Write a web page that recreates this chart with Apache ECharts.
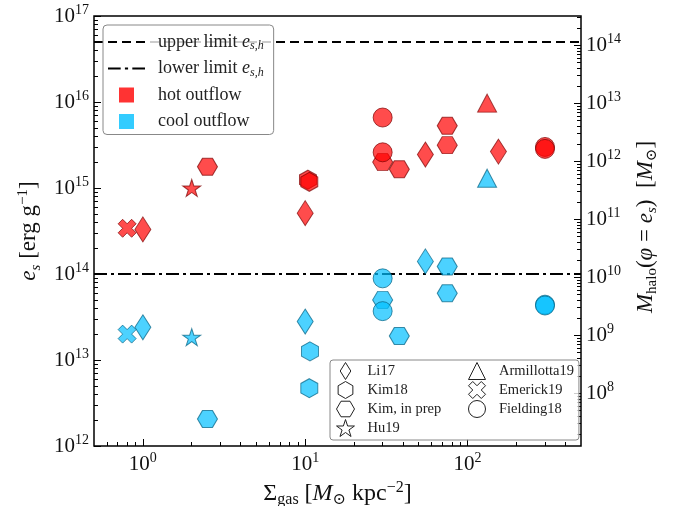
<!DOCTYPE html>
<html>
<head>
<meta charset="utf-8">
<script src="https://cdn.jsdelivr.net/npm/echarts@6/dist/echarts.min.js"></script>
<style>
  html, body { margin: 0; padding: 0; background: #fff; }
  #chart { width: 679px; height: 506px; }
</style>
</head>
<body>
<div id="chart"></div>
<script>
// x: gas surface density [Msun/kpc^2], y: specific energy e_s [erg/g]
const hotEmerick19 = [[0.8, 3.4e14]];
const coolEmerick19 = [[0.8, 2.0e13]];
const hotLi17 = [[1, 3.3e14], [10, 5.1e14], [55, 2.45e15], [155, 2.65e15]];
const coolLi17 = [[1, 2.4e13], [10, 2.8e13], [55, 1.4e14]];
const hotHu19 = [[2, 1.0e15]];
const coolHu19 = [[2, 1.84e13]];
const hotKimPrep = [[2.5, 1.77e15], [30, 2.0e15], [38, 1.65e15], [75, 5.3e15], [75, 3.15e15]];
const coolKimPrep = [[2.5, 2.06e12], [30, 5.0e13], [38, 1.9e13], [75, 1.22e14], [75, 5.96e13]];
const hotKim18 = [[10.4, 1.25e15], [10.6, 1.18e15]];
const coolKim18 = [[10.7, 1.26e13], [10.6, 4.7e12]];
const hotFielding18 = [[30, 6.6e15], [30, 2.6e15], [300, 3.0e15], [300, 2.85e15]];
const coolFielding18 = [[30, 8.9e13], [30, 3.7e13], [300, 4.4e13], [300, 4.3e13]];
const hotArmillotta19 = [[132, 9.7e15]];
const coolArmillotta19 = [[132, 1.3e15]];

const upperLimit = 5e16;
const lowerLimit = 1e14;

const xRange = [0.5, 500];
const yRange = [1e12, 1e17];
const mRange = [1.23e7, 3.2e14];   // M_halo axis on the right

const xMajor = [1, 10, 100];
const yMajor = [1e12, 1e13, 1e14, 1e15, 1e16, 1e17];
const mMajor = [1e8, 1e9, 1e10, 1e11, 1e12, 1e13, 1e14];

const FONT = 'Liberation Serif, DejaVu Serif, serif';

// minor ticks at 2..9 of each decade inside a range
function minorTicks(range) {
  const out = [];
  const e0 = Math.floor(Math.log10(range[0]));
  const e1 = Math.ceil(Math.log10(range[1]));
  for (let e = e0; e <= e1; e++) {
    for (let k = 2; k <= 9; k++) {
      const v = k * Math.pow(10, e);
      if (v > range[0] && v < range[1]) out.push(v);
    }
  }
  return out;
}

const powLabel = v => '{b|10}{s|' + Math.round(Math.log10(v)) + '}';
const powRich = {
  b: { fontFamily: FONT, fontSize: 21, lineHeight: 26, color: '#111' },
  s: { fontFamily: FONT, fontSize: 14, lineHeight: 14, verticalAlign: 'top', color: '#111' }
};
function nameStyle(size) {
  const sub = Math.round(size * 0.65);
  return {
    fontFamily: FONT, fontSize: size, lineHeight: 28, color: '#111',
    rich: {
      i: { fontFamily: FONT, fontSize: size, fontStyle: 'italic', color: '#111' },
      sub: { fontFamily: FONT, fontSize: sub, lineHeight: sub, verticalAlign: 'bottom', color: '#111' },
      si: { fontFamily: FONT, fontSize: sub, lineHeight: sub, fontStyle: 'italic', verticalAlign: 'bottom', color: '#111' },
      sup: { fontFamily: FONT, fontSize: sub, lineHeight: sub, verticalAlign: 'top', color: '#111' }
    }
  };
}

const hexPointy = 'path://M0,-1L0.866,-0.5L0.866,0.5L0,1L-0.866,0.5L-0.866,-0.5Z';
const hexFlat = 'path://M-1,0L-0.5,-0.866L0.5,-0.866L1,0L0.5,0.866L-0.5,0.866Z';
const starPath = 'path://M0,-1L0.2245,-0.309L0.9511,-0.309L0.3633,0.118L0.5878,0.809L0,0.382L-0.5878,0.809L-0.3633,0.118L-0.9511,-0.309L-0.2245,-0.309Z';
const crossPath = 'path://M2,-4L4,-2L2,0L4,2L2,4L0,2L-2,4L-4,2L-2,0L-4,-2L-2,-4L0,-2Z';
const diamondPath = 'path://M0,-1.6L1,0L0,1.6L-1,0Z';
const trianglePath = 'path://M0,-1L1,1L-1,1Z';

const sources = [
  { name: 'Li17', symbol: diamondPath, size: [16, 25], hot: hotLi17, cool: coolLi17 },
  { name: 'Kim18', symbol: hexPointy, size: [17, 19], hot: hotKim18, cool: coolKim18 },
  { name: 'Kim, in prep', symbol: hexFlat, size: [20, 17], hot: hotKimPrep, cool: coolKimPrep },
  { name: 'Hu19', symbol: starPath, size: [18, 17], hot: hotHu19, cool: coolHu19 },
  { name: 'Armillotta19', symbol: trianglePath, size: [19, 18], hot: hotArmillotta19, cool: coolArmillotta19 },
  { name: 'Emerick19', symbol: crossPath, size: [18, 18], hot: hotEmerick19, cool: coolEmerick19 },
  { name: 'Fielding18', symbol: 'circle', size: 19, hot: hotFielding18, cool: coolFielding18 }
];

const hotStyle = { color: '#ff0000', borderColor: '#7a0000', borderWidth: 1, opacity: 0.7 };
const coolStyle = { color: '#00bfff', borderColor: '#005f80', borderWidth: 1, opacity: 0.7 };

const series = [
  {
    name: 'upper limit', type: 'line', symbol: 'none', color: '#000',
    data: [[xRange[0], upperLimit], [xRange[1], upperLimit]],
    lineStyle: { color: '#000', width: 2, type: [9, 5] }, z: 1
  },
  {
    name: 'lower limit', type: 'line', symbol: 'none', color: '#000',
    data: [[xRange[0], lowerLimit], [xRange[1], lowerLimit]],
    lineStyle: { color: '#000', width: 2, type: [13, 4, 3, 4] }, z: 1
  },
  { name: 'hot outflow', type: 'scatter', data: [], itemStyle: { color: '#ff0000' } },
  { name: 'cool outflow', type: 'scatter', data: [], itemStyle: { color: '#00bfff' } }
];
sources.forEach(src => {
  series.push({
    name: src.name, type: 'scatter', symbol: src.symbol, symbolSize: src.size,
    data: src.hot, itemStyle: hotStyle, z: 3
  });
  series.push({
    name: src.name, type: 'scatter', symbol: src.symbol, symbolSize: src.size,
    data: src.cool, itemStyle: coolStyle, z: 3
  });
});

const dashIcon = 'path://M0,0h9v2h-9z M14,0h9v2h-9z M28,0h9v2h-9z';
const dashDotIcon = 'path://M0,0h12v2h-12z M16,0h3v2h-3z M23,0h12v2h-12z';
const squareIcon = 'path://M0,0h10v10h-10z';

const openIcon = { color: '#fff', borderColor: '#222', borderWidth: 1, opacity: 1 };
// fixed-width text so the second legend column lines up
const colText = { width: 99, padding: [0, 0, 0, 8], backgroundColor: 'rgba(255,255,255,0)' };

const tickLine = { color: '#000', width: 1 };

function majorAxis(range, ticks, extra) {
  return Object.assign({
    type: 'log', min: range[0], max: range[1],
    axisLine: { show: false },
    splitLine: { show: false },
    axisTick: { inside: true, length: 7, lineStyle: tickLine, customValues: ticks },
    axisLabel: { customValues: ticks, formatter: powLabel, rich: powRich, margin: 5 }
  }, extra);
}
function minorAxis(range, extra) {
  return Object.assign({
    type: 'log', min: range[0], max: range[1],
    axisLine: { show: false },
    splitLine: { show: false },
    axisTick: { inside: true, length: 4, lineStyle: tickLine, customValues: minorTicks(range) },
    axisLabel: { show: false }
  }, extra);
}

const chart = echarts.init(document.getElementById('chart'));
chart.setOption({
  backgroundColor: '#fff',
  animation: false,
  grid: {
    left: 94, right: 98, top: 16, bottom: 60,
    outerBoundsMode: 'none', containLabel: false,
    show: true, borderColor: '#000', borderWidth: 1.5, backgroundColor: 'transparent'
  },
  xAxis: [
    majorAxis(xRange, xMajor, {
      position: 'bottom',
      name: 'Σ{sub|gas} [{i|M}{sub|⊙} kpc{sup|−2}]',
      nameLocation: 'middle', nameGap: 33, nameTextStyle: nameStyle(24)
    }),
    minorAxis(xRange, { position: 'bottom' })
  ],
  yAxis: [
    majorAxis(yRange, yMajor, {
      position: 'left',
      name: '{i|e}{si|s} [erg g{sup|−1}]',
      nameLocation: 'middle', nameGap: 49, nameTextStyle: nameStyle(23)
    }),
    minorAxis(yRange, { position: 'left' }),
    majorAxis(mRange, mMajor, {
      position: 'right',
      name: '{i|M}{sub|halo}({i|φ} = {i|e}{si|s})  [{i|M}{sub|⊙}]',
      nameLocation: 'middle', nameGap: 35,
      nameTextStyle: Object.assign(nameStyle(23), { padding: [0, 0, 0, 8] })
    }),
    minorAxis(mRange, { position: 'right' })
  ],
  legend: [
    {
      orient: 'vertical', left: 103, top: 25,
      itemWidth: 37, itemHeight: 15, itemGap: 6.5,
      padding: [7, 10, 3, 5],
      borderColor: '#888', borderWidth: 1, borderRadius: 4,
      backgroundColor: 'rgba(255,255,255,0.8)',
      selectedMode: false,
      textStyle: {
        fontFamily: FONT, fontSize: 18, lineHeight: 20, color: '#222',
        padding: [0, 0, 0, 8],
        rich: {
          i: { fontFamily: FONT, fontSize: 18, fontStyle: 'italic', color: '#222' },
          sub: { fontFamily: FONT, fontSize: 12, lineHeight: 12, fontStyle: 'italic', verticalAlign: 'bottom', color: '#222' }
        }
      },
      formatter: name => (name === 'upper limit' || name === 'lower limit')
        ? name + ' {i|e}{sub|s,h}' : name,
      data: [
        { name: 'upper limit', icon: dashIcon },
        { name: 'lower limit', icon: dashDotIcon },
        { name: 'hot outflow', icon: squareIcon },
        { name: 'cool outflow', icon: squareIcon }
      ]
    },
    {
      orient: 'vertical', left: 330, top: 360, height: 86,
      itemWidth: 18, itemHeight: 17, itemGap: 1,
      padding: [2, 5, 3, 6],
      borderColor: '#888', borderWidth: 1, borderRadius: 3,
      backgroundColor: 'rgba(255,255,255,0.8)',
      selectedMode: false,
      textStyle: { fontFamily: FONT, fontSize: 14.5, lineHeight: 18, color: '#222', padding: [0, 0, 0, 8] },
      data: [
        { name: 'Li17', icon: diamondPath, itemStyle: openIcon, textStyle: colText },
        { name: 'Kim18', icon: hexPointy, itemStyle: openIcon, textStyle: colText },
        { name: 'Kim, in prep', icon: hexFlat, itemStyle: openIcon, textStyle: colText },
        { name: 'Hu19', icon: starPath, itemStyle: openIcon, textStyle: colText },
        { name: 'Armillotta19', icon: trianglePath, itemStyle: openIcon },
        { name: 'Emerick19', icon: crossPath, itemStyle: openIcon },
        { name: 'Fielding18', icon: 'circle', itemStyle: openIcon }
      ]
    }
  ],
  series: series
});
</script>
</body>
</html>
